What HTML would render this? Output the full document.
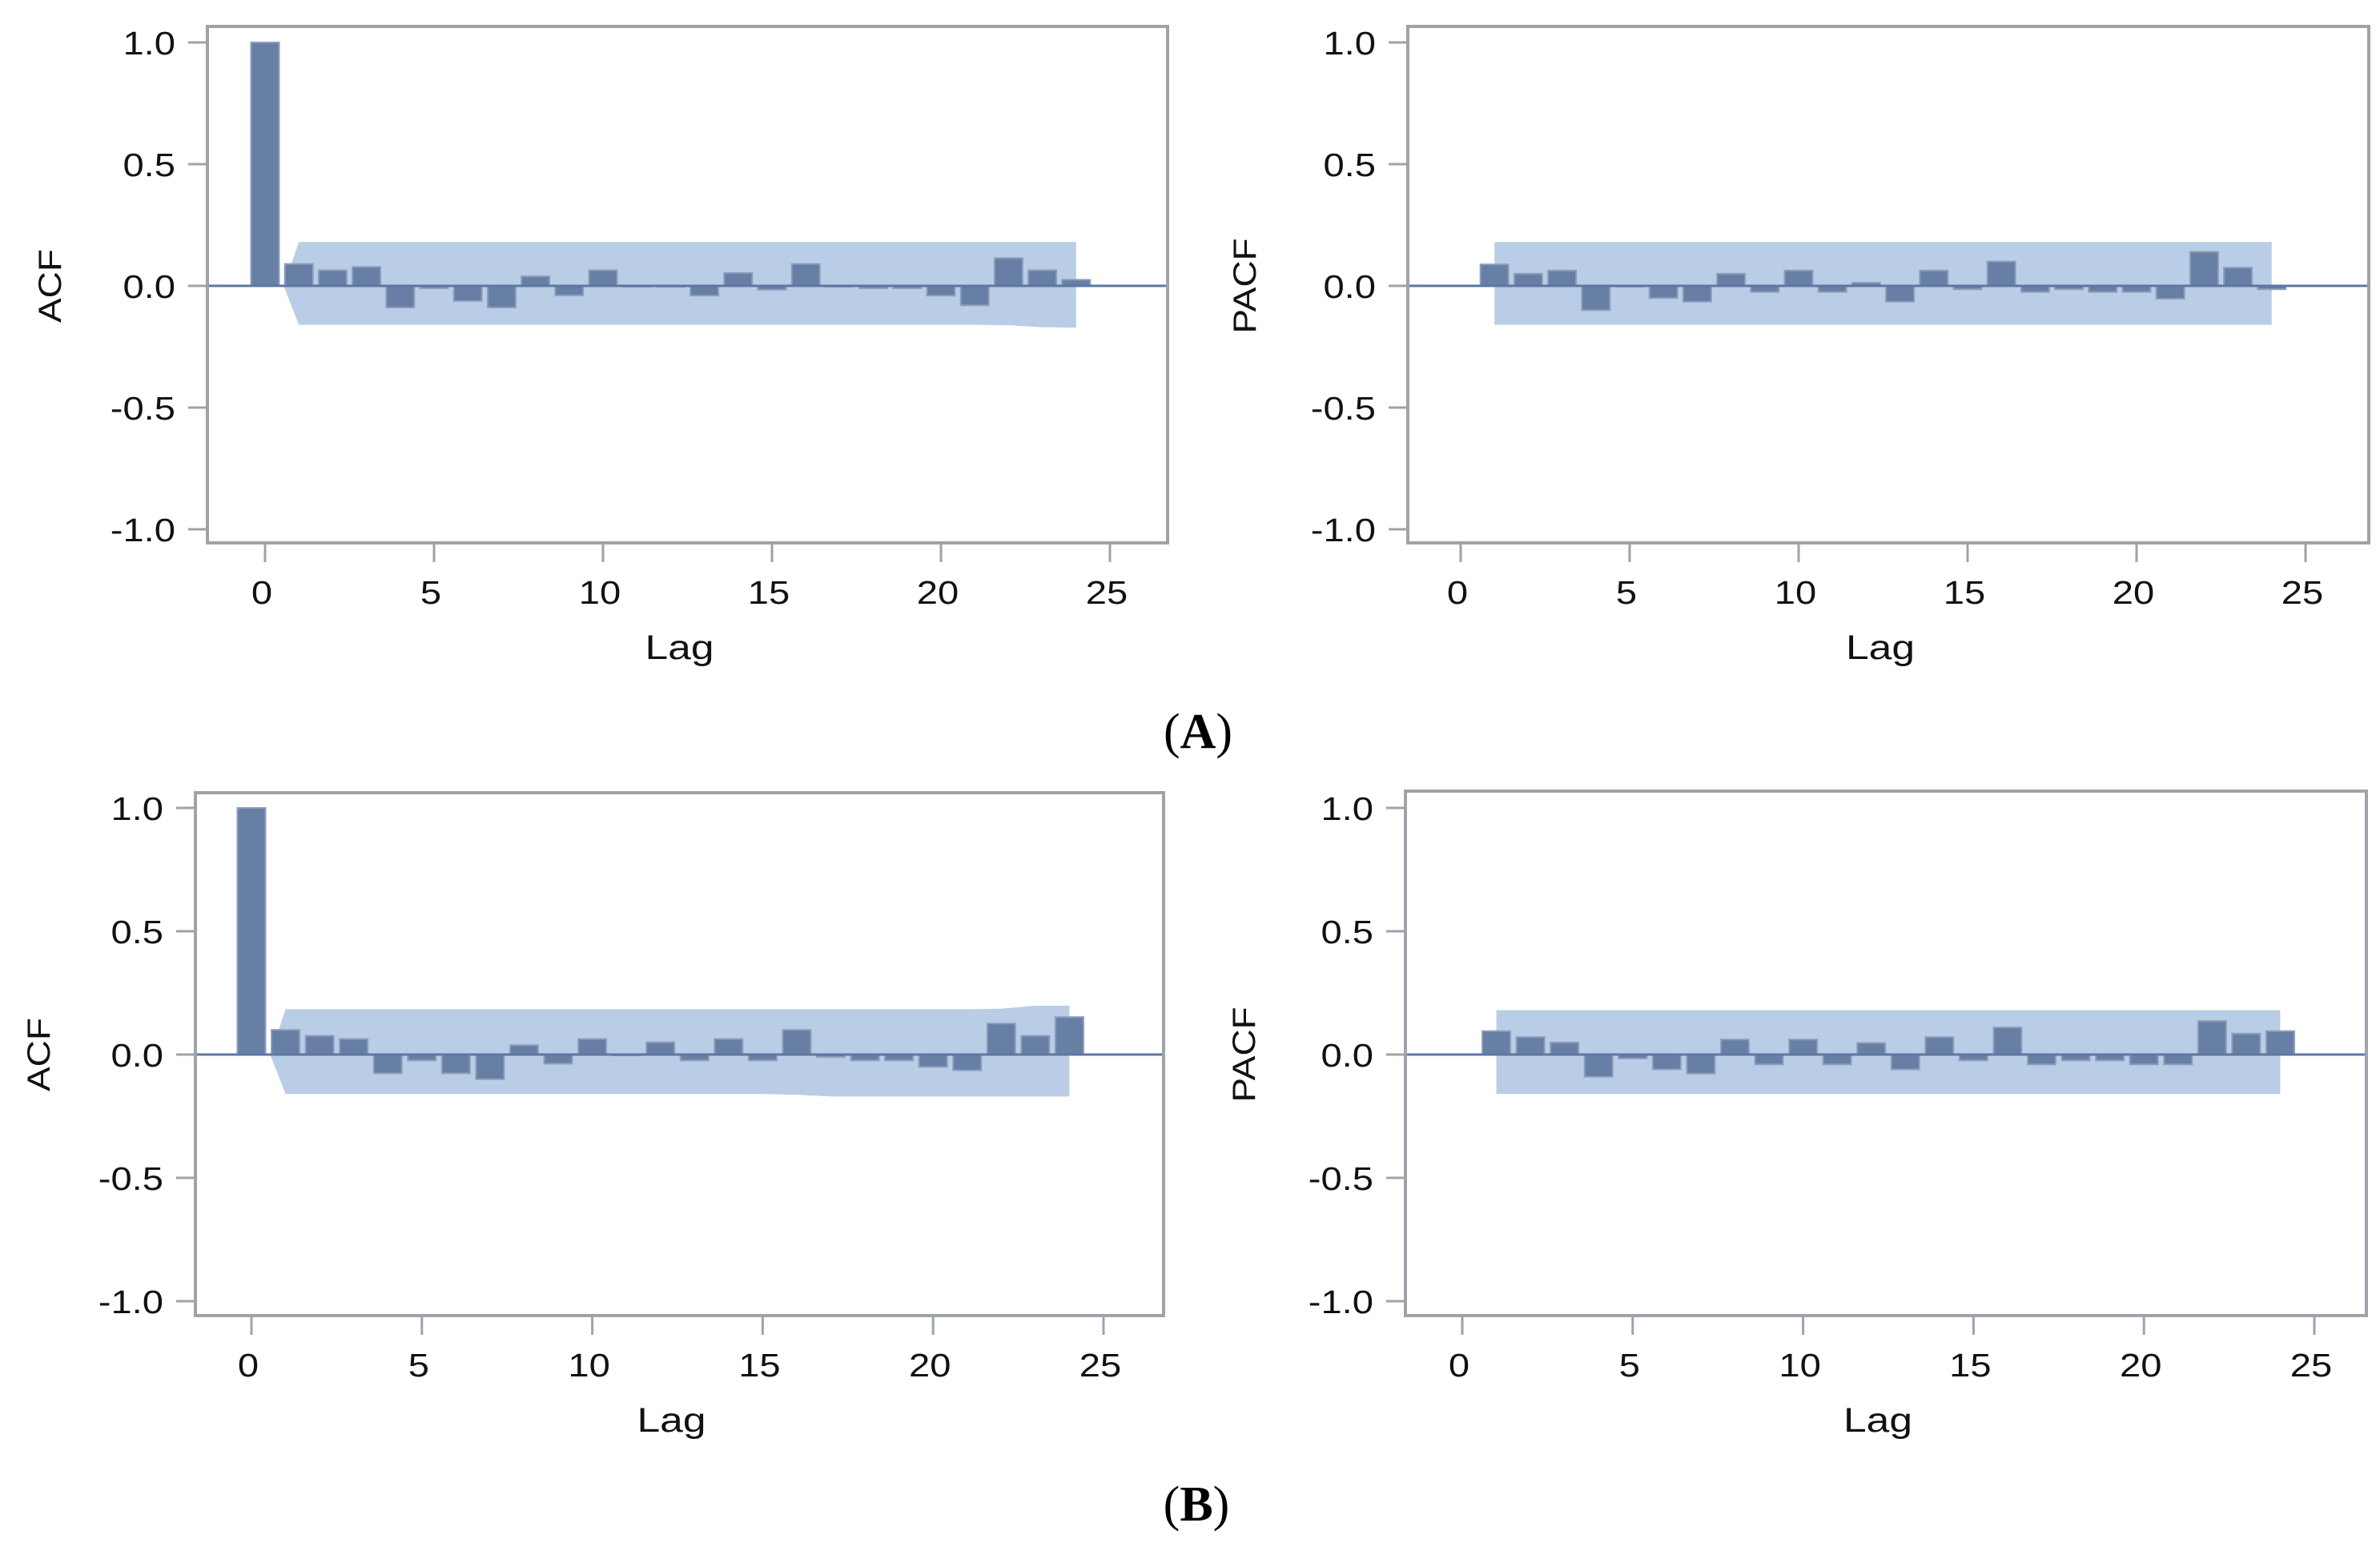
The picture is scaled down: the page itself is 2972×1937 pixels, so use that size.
<!DOCTYPE html>
<html><head><meta charset="utf-8"><style>
html,body{margin:0;padding:0;background:#fff;}
svg{display:block;}
</style></head><body>
<svg id="fig" width="2972" height="1937" viewBox="0 0 2972 1937" xmlns="http://www.w3.org/2000/svg">
<text x="1496" y="934" text-anchor="middle" font-family="Liberation Serif, serif" font-size="62">(<tspan font-weight="bold">A</tspan>)</text>
<text x="1494" y="1899" text-anchor="middle" font-family="Liberation Serif, serif" font-size="62">(<tspan font-weight="bold">B</tspan>)</text>
</svg>
<script>
const lags = [0,1,2,3,4,5,6,7,8,9,10,11,12,13,14,15,16,17,18,19,20,21,22,23,24];
const yTicks = [1.0, 0.5, 0.0, -0.5, -1.0];
const yTickLabels = ["1.0","0.5","0.0","-0.5","-1.0"];
const xTicks = [0,5,10,15,20,25];
const acfA = [1.0,0.09,0.064,0.078,-0.089,-0.01,-0.062,-0.089,0.039,-0.039,0.064,0.0,-0.004,-0.04,0.053,-0.016,0.09,0.0,-0.01,-0.01,-0.04,-0.08,0.114,0.064,0.025];
const pacfA = [0,0.088,0.05,0.063,-0.1,-0.003,-0.05,-0.065,0.05,-0.025,0.063,-0.025,0.013,-0.065,0.063,-0.014,0.1,-0.025,-0.014,-0.025,-0.025,-0.053,0.14,0.075,-0.014];
const acfB = [1.0,0.10,0.076,0.063,-0.076,-0.024,-0.076,-0.1,0.038,-0.037,0.063,0.0,0.05,-0.024,0.063,-0.024,0.1,-0.01,-0.024,-0.024,-0.05,-0.064,0.126,0.076,0.152];
const pacfB = [0,0.095,0.071,0.049,-0.09,-0.016,-0.06,-0.077,0.061,-0.04,0.061,-0.04,0.047,-0.06,0.071,-0.024,0.11,-0.04,-0.024,-0.024,-0.04,-0.04,0.136,0.085,0.095];
const bandUpperAcfA = [0.18,0.18,0.18,0.18,0.18,0.18,0.18,0.18,0.18,0.18,0.18,0.18,0.18,0.18,0.18,0.18,0.18,0.18,0.18,0.18,0.18,0.18,0.18,0.18];
const bandLowerAcfA = [-0.16,-0.16,-0.16,-0.16,-0.16,-0.16,-0.16,-0.16,-0.16,-0.16,-0.16,-0.16,-0.16,-0.16,-0.16,-0.16,-0.16,-0.16,-0.16,-0.16,-0.16,-0.162,-0.17,-0.172];
const bandUpperAcfB = [0.184,0.184,0.184,0.184,0.184,0.184,0.184,0.184,0.184,0.184,0.184,0.184,0.184,0.184,0.184,0.184,0.184,0.184,0.184,0.184,0.184,0.186,0.198,0.198];
const bandLowerAcfB = [-0.16,-0.16,-0.16,-0.16,-0.16,-0.16,-0.16,-0.16,-0.16,-0.16,-0.16,-0.16,-0.16,-0.16,-0.16,-0.163,-0.17,-0.17,-0.17,-0.17,-0.17,-0.17,-0.17,-0.17];
const bandPacfA = [0.18,-0.16];
const bandPacfB = [0.18,-0.16];

const NS = "http://www.w3.org/2000/svg";
const svg = document.getElementById('fig');
function mk(tag, attrs, parent){
  const e = document.createElementNS(NS, tag);
  for (const k in attrs) e.setAttribute(k, attrs[k]);
  (parent||svg).appendChild(e);
  return e;
}
function panel(cfg){
  const g = mk('g', {});
  
  
  const xs = v => cfg.x0 + (cfg.x25 - cfg.x0) * v / 25;
  const ys = v => cfg.y0 + (cfg.y1 - cfg.y0) * v;
  let pts = [];
  if (cfg.isAcf) {
    pts.push([xs(0.55), ys(0)]);
    pts.push([xs(0.8), ys(0.1)]);
    for (let i = 0; i < cfg.bandU.length; i++) pts.push([xs(i + 1), ys(cfg.bandU[i])]);
    for (let i = cfg.bandL.length - 1; i >= 0; i--) pts.push([xs(i + 1), ys(cfg.bandL[i])]);
  } else {
    pts = [[xs(1), ys(cfg.bandU[0])], [xs(24), ys(cfg.bandU[0])], [xs(24), ys(cfg.bandL[0])], [xs(1), ys(cfg.bandL[0])]];
  }
  const band = mk('polygon', {points: pts.map(p => p.join(',')).join(' '), fill: '#b9cee6'}, g);
  
  
  const bw = 35;
  for (let i = 0; i < lags.length; i++) {
    const v = cfg.values[i];
    if (!cfg.isAcf && lags[i] === 0) continue;
    const yTop = Math.min(ys(v), ys(0)), h = Math.max(Math.abs(ys(v) - ys(0)), 1);
    const r = mk('rect', {x: xs(lags[i]) - bw / 2, y: yTop, width: bw, height: h, fill: '#677fa5', stroke: '#8c9ebc', 'stroke-width': 2}, g);
    
    
  }
  const zl = mk('line', {x1: cfg.fx1, x2: cfg.fx2, y1: ys(0), y2: ys(0), stroke: '#5d77a3', 'stroke-width': 3}, g);
  
  
  const fr = mk('rect', {x: cfg.fx1, y: cfg.fy1, width: cfg.fx2 - cfg.fx1, height: cfg.fy2 - cfg.fy1, fill: 'none', stroke: '#9ea3a9', 'stroke-width': 4}, g);
  
  
  for (let i = 0; i < yTicks.length; i++) {
    const y = ys(yTicks[i]);
    const t = mk('line', {x1: cfg.fx1 - 24, x2: cfg.fx1, y1: y, y2: y, stroke: '#9ea3a9', 'stroke-width': 3}, g);
    
    
    const tx = mk('text', {transform: `translate(${cfg.fx1 - 40},${y + 15}) scale(1.15,1)`, 'text-anchor': 'end', 'font-family': 'Liberation Sans, sans-serif', 'font-size': 41, fill: '#111'}, g);
    tx.textContent = yTickLabels[i];
    
    
  }
  for (let i = 0; i < xTicks.length; i++) {
    const x = xs(xTicks[i]);
    const t = mk('line', {x1: x, x2: x, y1: cfg.fy2, y2: cfg.fy2 + 24, stroke: '#9ea3a9', 'stroke-width': 3}, g);
    
    
    const tx = mk('text', {transform: `translate(${x - 4},${cfg.fy2 + 76}) scale(1.15,1)`, 'text-anchor': 'middle', 'font-family': 'Liberation Sans, sans-serif', 'font-size': 41, fill: '#111'}, g);
    tx.textContent = String(xTicks[i]);
    
    
  }
  const xl = mk('text', {transform: `translate(${(cfg.fx1 + cfg.fx2) / 2 - 10},${cfg.fy2 + 145}) scale(1.2,1)`, 'text-anchor': 'middle', 'font-family': 'Liberation Sans, sans-serif', 'font-size': 43, fill: '#111'}, g);
  xl.textContent = 'Lag';
  
  
  const yl = mk('text', {transform: `translate(${cfg.ylx},${ys(0)}) rotate(-90) scale(1.15,1)`, 'text-anchor': 'middle', 'font-family': 'Liberation Sans, sans-serif', 'font-size': 40, fill: '#111'}, g);
  yl.textContent = cfg.ylabel;
  
  
}
panel({name: 'panel-a-acf', isAcf: true, values: acfA, bandU: bandUpperAcfA, bandL: bandLowerAcfA, x0: 331, x25: 1386, y0: 357, y1: 53, fx1: 259, fx2: 1458, fy1: 33, fy2: 678, ylx: 76, ylabel: 'ACF'});
panel({name: 'panel-a-pacf', isAcf: false, values: pacfA, bandU: [bandPacfA[0]], bandL: [bandPacfA[1]], x0: 1824, x25: 2879, y0: 357, y1: 53, fx1: 1758, fx2: 2958, fy1: 33, fy2: 678, ylx: 1568, ylabel: 'PACF'});
panel({name: 'panel-b-acf', isAcf: true, values: acfB, bandU: bandUpperAcfB, bandL: bandLowerAcfB, x0: 314, x25: 1378, y0: 1317, y1: 1009, fx1: 244, fx2: 1453, fy1: 990, fy2: 1643, ylx: 62, ylabel: 'ACF'});
panel({name: 'panel-b-pacf', isAcf: false, values: pacfB, bandU: [bandPacfB[0]], bandL: [bandPacfB[1]], x0: 1826, x25: 2890, y0: 1317, y1: 1009, fx1: 1755, fx2: 2955, fy1: 988, fy2: 1643, ylx: 1567, ylabel: 'PACF'});
</script>
</body></html>
